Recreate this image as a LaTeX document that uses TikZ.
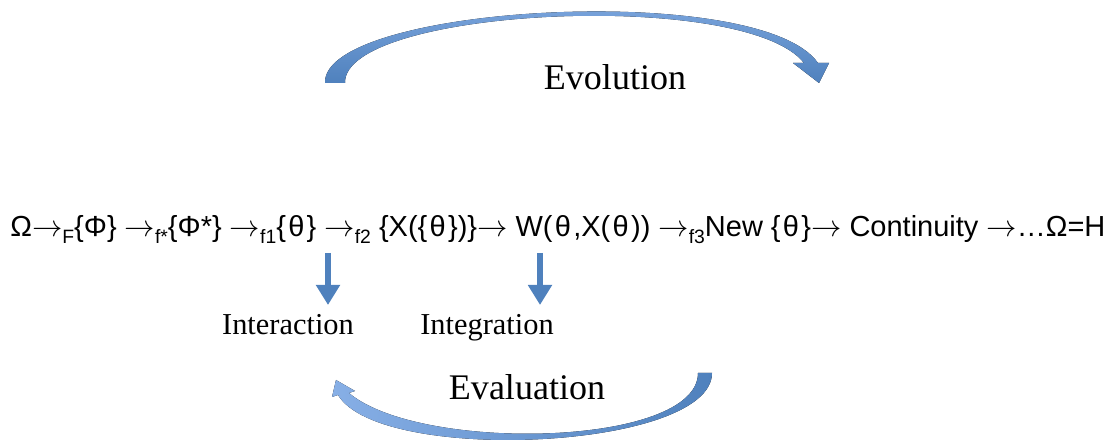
\documentclass[tikz,border=0pt]{standalone}
\usepackage{fontspec}
\setmainfont{Liberation Serif}
\newfontfamily\arialfont{Liberation Sans}
\usepackage{xcolor}
\definecolor{arcoAzul}{RGB}{79,129,189}
\definecolor{arcoClaro}{RGB}{135,175,230}
\usepackage{tikz}
\usetikzlibrary{arrows.meta,positioning,calc}
\tikzstyle{cadeia}=[font=\arialfont\fontsize{16.5}{20}\selectfont, inner sep=0pt, anchor=base west]
\tikzstyle{rotulo}=[font=\fontsize{17.3}{20}\selectfont, inner sep=0pt, anchor=base]
\tikzstyle{rotulogrande}=[font=\fontsize{20.5}{24}\selectfont, inner sep=0pt, anchor=base]
\tikzstyle{setabaixo}=[-{Triangle[width=0.46cm,length=0.4cm]}, line width=0.11cm, color=arcoAzul]
\newcommand{\subind}[1]{\raisebox{-0.45ex}{\fontsize{11}{12}\selectfont #1}}
\newcommand{\seta}{\ensuremath{\rightarrow}}
\newcommand{\teta}{\kern0.08em θ\kern0.08em}

\begin{document}
\begin{tikzpicture}[x=0.02cm, y=-0.02cm]
    \useasboundingbox (0,0) rectangle (1116,448);

    % Arco superior
    \fill[top color=arcoClaro, bottom color=arcoAzul]
        (325,83) .. controls (322,5) and (760,-20) .. (818,63)
        -- (829,63) -- (819,83) -- (793,63) -- (804,63)
        .. controls (745,-12) and (343,8) .. (345,83) -- cycle;
    \node[rotulogrande] (evol) at (615,90) {Evolution};

    % Cadeia principal
    \node[cadeia] (cad) at (10,237)
        {Ω\seta\subind{F}\{Φ\} \seta\subind{f*}\{Φ*\} \seta\subind{f1}\{\teta\} \seta\subind{f2} \{X(\{\teta\})\}\seta\ W(\teta,X(\teta)) \seta\subind{f3}New \{\teta\}\seta\ Continuity \seta…Ω=H};

    % Setas para baixo
    \coordinate (s1) at (328,253);
    \coordinate (t1) at (328,305);
    \coordinate (s2) at (540,253);
    \coordinate (t2) at (540,305);
    \draw[setabaixo] (s1) -- (t1);
    \draw[setabaixo] (s2) -- (t2);

    \node[rotulo] (inter) at (288,335) {Interaction};
    \node[rotulo] (integ) at (487,335) {Integration};

    % Arco inferior
    \fill[left color=arcoClaro, right color=arcoAzul]
        (712,373) .. controls (712,450) and (380,465) .. (338,395)
        -- (332,397) -- (336,380) -- (355,391) -- (349,393)
        .. controls (420,453) and (698,447) .. (698,373) -- cycle;
    \node[rotulogrande] (aval) at (527,400) {Evaluation};
\end{tikzpicture}
\end{document}
